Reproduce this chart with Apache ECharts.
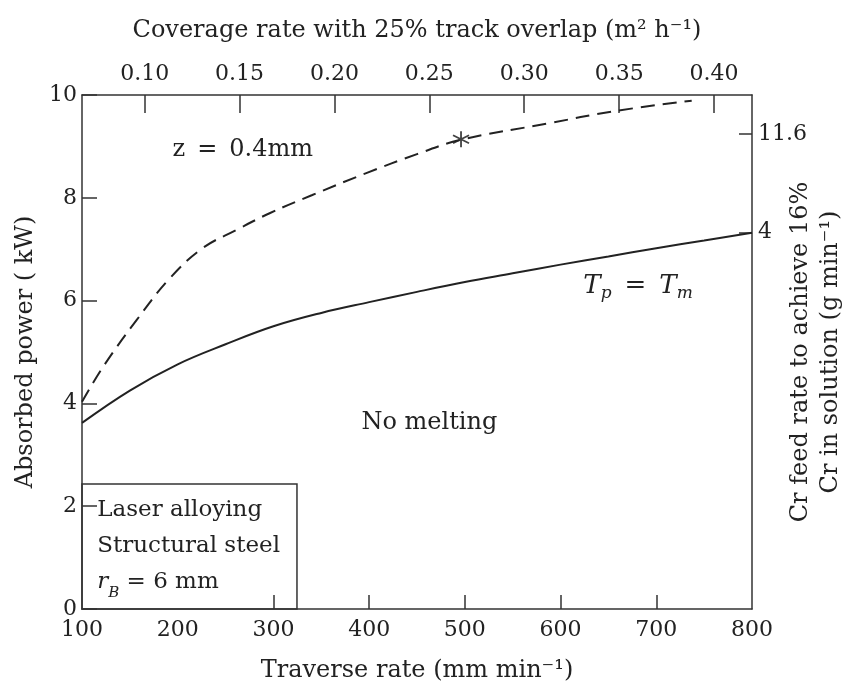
<!DOCTYPE html>
<html>
<head>
<meta charset="utf-8">
<script src="https://cdn.jsdelivr.net/npm/echarts@6/dist/echarts.min.js"></script>
<style>html,body{margin:0;padding:0;background:#fff}#c{width:854px;height:689px}</style>
</head>
<body>
<div id="c"></div>
<script>
// Solid curve: T_p = T_m (traverse rate mm/min -> absorbed power kW)
const solidX = [100,150,200,250,300,350,400,450,500,550,600,650,700,750,800];
const solidY = [3.62,4.25,4.76,5.15,5.50,5.76,5.97,6.17,6.36,6.53,6.70,6.86,7.02,7.17,7.32];
// Dashed curve: z = 0.4mm
const dashX = [100,122,157,192,226,261,296,340,397,450,496,588,654,737];
const dashY = [4.03,4.71,5.62,6.44,7.02,7.37,7.70,8.05,8.48,8.85,9.13,9.45,9.68,9.89];
// Star marker
const starPt = [496, 9.14];
// Bottom axis
const bottomTicks = [300,400,500,600,700];
// Top axis (coverage rate, m^2/h)
const topMin = 0.067, topMax = 0.42;
const topTicks = [0.10,0.15,0.20,0.25,0.30,0.35,0.40];
// Right axis (Cr feed rate, g/min) labels placed at absorbed power positions
const rightTickPos = [9.24, 7.32];
const rightTickLabels = ['11.6', '4'];
// Info box extent (traverse, power)
const boxFrom = [100, 0], boxTo = [324.6, 2.43];

const FONT = 'DejaVu Serif';
const TXT = '#222';
const AX = '#333';

const chart = echarts.init(document.getElementById('c'), null, {renderer:'canvas'});
const axisLine = {show:true, onZero:false, lineStyle:{color:AX, width:1.5}};
const tickBase = {show:true, inside:true, lineStyle:{color:AX, width:1.5}};
const lbl = {color:TXT, fontFamily:FONT, fontSize:22};
const nameStyle = {color:TXT, fontFamily:FONT, fontSize:24};

chart.setOption({
  animation:false,
  backgroundColor:'#fff',
  grid:{left:82, right:102, top:95, bottom:80, containLabel:false, outerBoundsMode:'none'},
  xAxis:[
    {type:'value', position:'bottom', min:100, max:800, interval:100,
     axisLine, axisTick:Object.assign({}, tickBase, {length:14, customValues:bottomTicks}),
     axisLabel:Object.assign({}, lbl, {margin:10}),
     splitLine:{show:false},
     name:'Traverse rate (mm min\u207B\u00B9)', nameLocation:'middle', nameGap:50,
     nameTextStyle:nameStyle},
    {type:'value', position:'top', min:topMin, max:topMax,
     axisLine, axisTick:Object.assign({}, tickBase, {length:18, customValues:topTicks}),
     axisLabel:Object.assign({}, lbl, {margin:10, customValues:topTicks, formatter:v=>v.toFixed(2)}),
     splitLine:{show:false},
     name:'Coverage rate with 25% track overlap (m\u00B2 h\u207B\u00B9)', nameLocation:'middle', nameGap:52,
     nameTextStyle:nameStyle}
  ],
  yAxis:[
    {type:'value', position:'left', min:0, max:10, interval:2,
     axisLine, axisTick:Object.assign({}, tickBase, {length:15}),
     axisLabel:Object.assign({}, lbl, {margin:5}),
     splitLine:{show:false},
     name:'Absorbed power ( kW)', nameLocation:'middle', nameGap:40,
     nameTextStyle:nameStyle},
    {type:'value', position:'right', min:0, max:10,
     axisLine, axisTick:Object.assign({}, tickBase, {length:13, customValues:rightTickPos}),
     axisLabel:Object.assign({}, lbl, {margin:6, customValues:rightTickPos,
       formatter:v=>{const i=rightTickPos.findIndex(p=>Math.abs(p-v)<1e-6);return i>=0?rightTickLabels[i]:'';}}),
     splitLine:{show:false},
     name:'Cr feed rate to achieve 16%\nCr in solution (g min\u207B\u00B9)', nameLocation:'middle', nameGap:34, nameRotate:90,
     nameMoveOverlap:false,
     nameTextStyle:Object.assign({}, nameStyle, {lineHeight:30})}
  ],
  series:[
    {type:'line', name:'Tp=Tm', xAxisIndex:0, yAxisIndex:0, smooth:0.4, showSymbol:false, symbol:'none',
     data:solidX.map((x,i)=>[x,solidY[i]]),
     lineStyle:{color:TXT, width:2},
     markArea:{silent:true,
       itemStyle:{color:'rgba(0,0,0,0)', borderColor:AX, borderWidth:1.5},
       label:{show:true, position:'insideTopLeft', distance:0, offset:[16,9],
         formatter:'{a|Laser alloying}\n{a|Structural steel}\n{i|r}{s|B}{a| = 6 mm}',
         rich:{a:{fontFamily:FONT, fontSize:23, color:TXT, lineHeight:36},
               i:{fontFamily:FONT, fontSize:23, color:TXT, fontStyle:'italic', lineHeight:36},
               s:{fontFamily:FONT, fontSize:15, color:TXT, fontStyle:'italic', lineHeight:22, verticalAlign:'bottom'}}},
       data:[[{coord:boxFrom},{coord:boxTo}]]},
     markPoint:{silent:true, symbol:'circle', symbolSize:0,
       label:{show:true, position:'inside', color:TXT, fontFamily:FONT, fontSize:24},
       data:[
         {name:'No melting', coord:[463, 3.62], label:{formatter:'No melting'}},
         {name:'Tp', coord:[681, 6.28], label:{formatter:'{i|T}{s|p}{n|\u2002=\u2002}{i|T}{s|m}',
           rich:{i:{fontFamily:FONT, fontSize:26, fontStyle:'italic', color:TXT, lineHeight:32},
                 n:{fontFamily:FONT, fontSize:26, color:TXT, lineHeight:32},
                 s:{fontFamily:FONT, fontSize:17, fontStyle:'italic', color:TXT, lineHeight:20, verticalAlign:'bottom'}}}}
       ]}},
    {type:'line', name:'z=0.4mm', xAxisIndex:0, yAxisIndex:0, smooth:0.4, showSymbol:false, symbol:'none',
     data:dashX.map((x,i)=>[x,dashY[i]]),
     lineStyle:{color:TXT, width:2, type:[14,8]},
     markPoint:{silent:true, symbol:'circle', symbolSize:0,
       label:{show:true, position:'inside', color:TXT, fontFamily:FONT, fontSize:24},
       data:[{name:'z', coord:[268, 8.93], label:{formatter:'z\u2002=\u20020.4mm'}}]}},
    {type:'scatter', xAxisIndex:0, yAxisIndex:0, data:[starPt],
     symbol:'path://M5,0 L5,10 M0.7,2.5 L9.3,7.5 M0.7,7.5 L9.3,2.5', symbolSize:16,
     itemStyle:{color:'rgba(0,0,0,0)', borderColor:'#111', borderWidth:1.8}}
  ]
});
</script>
</body>
</html>
